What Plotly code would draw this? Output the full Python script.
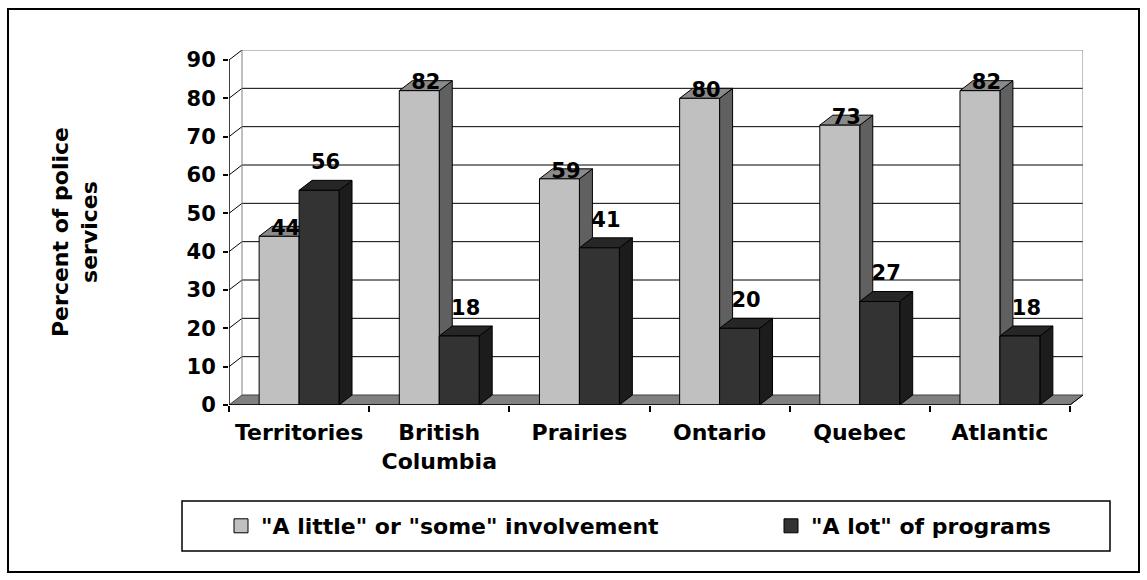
import plotly.graph_objects as go

# ---- data -------------------------------------------------------------
regions = ["Territories", "British<br>Columbia", "Prairies", "Ontario", "Quebec", "Atlantic"]
little_or_some = [44, 82, 59, 80, 73, 82]
a_lot = [56, 18, 41, 20, 27, 18]
y_ticks = [0, 10, 20, 30, 40, 50, 60, 70, 80, 90]
series_names = ['"A little" or "some" involvement', '"A lot" of programs']

# ---- page / plot geometry (pixels) -------------------------------------
W, H = 1147, 580
L, R, T, B = 229, 64, 50, 175
plot_w = W - L - R
plot_h = H - T - B

N = len(regions)
Y_MAX = max(y_ticks)
DEPTH_X_PX, DEPTH_Y_PX = 13, 10          # oblique depth of the pseudo-3D box
unit_x = (plot_w - DEPTH_X_PX) / N        # px per category
unit_y = (plot_h - DEPTH_Y_PX) / Y_MAX    # px per percent
dx = DEPTH_X_PX / unit_x
dy = DEPTH_Y_PX / unit_y
BAR_W = 0.285

X_LO, X_HI = -0.5, N - 0.5

FONT = "DejaVu Sans"
BLACK = "#000000"

LIGHT = dict(front="#C0C0C0", top="#8A8A8A", side="#606060")
DARK = dict(front="#333333", top="#262626", side="#1C1C1C")


def xp(px):
    return (px - L) / plot_w


def yp(px):
    return (H - B - px) / plot_h


def faces(x0, x1, v):
    front = [(x0, 0), (x1, 0), (x1, v), (x0, v)]
    top = [(x0, v), (x1, v), (x1 + dx, v + dy), (x0 + dx, v + dy)]
    side = [(x1, 0), (x1 + dx, dy), (x1 + dx, v + dy), (x1, v)]
    return front, top, side


def poly_trace(polys, color):
    xs, ys = [], []
    for p in polys:
        xs += [q[0] for q in p] + [p[0][0], None]
        ys += [q[1] for q in p] + [p[0][1], None]
    return go.Scatter(x=xs, y=ys, mode="lines", fill="toself", fillcolor=color,
                      line=dict(color=BLACK, width=1), hoverinfo="skip",
                      showlegend=False)


def series_traces(values, left, colors, label_lift_px):
    fronts, tops, sides = [], [], []
    lx, ly = [], []
    for i, v in enumerate(values):
        x0 = i - BAR_W if left else i
        x1 = x0 + BAR_W
        f, t, s = faces(x0, x1, v)
        fronts.append(f)
        tops.append(t)
        sides.append(s)
        lx.append((x0 + x1) / 2 + dx / 2)
        ly.append(v + label_lift_px / unit_y)
    traces = [poly_trace(sides, colors["side"]),
              poly_trace(tops, colors["top"]),
              poly_trace(fronts, colors["front"])]
    traces.append(go.Scatter(x=lx, y=ly, mode="text", text=[str(v) for v in values],
                             textposition="top center",
                             textfont=dict(family=FONT, size=21, color=BLACK, weight="bold"),
                             hoverinfo="skip", showlegend=False))
    return traces


fig = go.Figure()
# light series first so the dark bars sit in front of its side faces / labels
for tr in series_traces(little_or_some, True, LIGHT, -4):
    fig.add_trace(tr)
for tr in series_traces(a_lot, False, DARK, DEPTH_Y_PX + 6):
    fig.add_trace(tr)

# legend entries (one legend per series so each can be placed on its own)
for name, col, lg in zip(series_names, [LIGHT["front"], DARK["front"]], ["legend", "legend2"]):
    fig.add_trace(go.Scatter(x=[None], y=[None], mode="markers", name=name, legend=lg,
                             marker=dict(symbol="square", size=14, color=col,
                                         line=dict(color=BLACK, width=1))))

shapes = []
# floor
shapes.append(dict(type="path", layer="below", xref="x", yref="y",
                   path=f"M{X_LO},0 L{X_HI},0 L{X_HI + dx},{dy} L{X_LO + dx},{dy} Z",
                   fillcolor="#808080", line=dict(color="#404040", width=1)))
# walls: gridlines running from the front axis back and across the back wall
for t in y_ticks[1:]:
    col = "#808080" if t == Y_MAX else BLACK
    shapes.append(dict(type="line", layer="below", xref="x", yref="y",
                       x0=X_LO + dx, y0=t + dy, x1=X_HI + dx, y1=t + dy,
                       line=dict(color=col, width=1)))
    shapes.append(dict(type="line", layer="below", xref="x", yref="y",
                       x0=X_LO, y0=t, x1=X_LO + dx, y1=t + dy,
                       line=dict(color=BLACK, width=1)))
for xe in (X_LO + dx, X_HI + dx):
    shapes.append(dict(type="line", layer="below", xref="x", yref="y",
                       x0=xe, y0=dy, x1=xe, y1=Y_MAX + dy,
                       line=dict(color="#808080", width=1)))
# front axes
shapes.append(dict(type="line", xref="x", yref="y", x0=X_LO, y0=0, x1=X_LO, y1=Y_MAX,
                   line=dict(color=BLACK, width=1.5)))
shapes.append(dict(type="line", xref="x", yref="y", x0=X_LO, y0=0, x1=X_HI, y1=0,
                   line=dict(color=BLACK, width=1.5)))
shapes.append(dict(type="line", xref="x", yref="y", x0=X_HI, y0=0, x1=X_HI + dx, y1=dy,
                   line=dict(color=BLACK, width=1)))
# legend frame and outer frame
shapes.append(dict(type="rect", xref="paper", yref="paper",
                   x0=xp(182), x1=xp(1110), y0=yp(551), y1=yp(501),
                   line=dict(color=BLACK, width=1.5), fillcolor="rgba(0,0,0,0)"))
shapes.append(dict(type="rect", xref="paper", yref="paper",
                   x0=xp(8), x1=xp(1139), y0=yp(572), y1=yp(9),
                   line=dict(color=BLACK, width=2), fillcolor="rgba(0,0,0,0)"))

legend_font = dict(family=FONT, size=22, color=BLACK, weight="bold")
fig.update_layout(
    width=W, height=H, autosize=False,
    margin=dict(l=L, r=R, t=T, b=B, pad=0),
    paper_bgcolor="white", plot_bgcolor="white",
    shapes=shapes,
    showlegend=True,
    legend=dict(orientation="h", x=xp(221), y=yp(526), xanchor="left", yanchor="middle",
                bgcolor="rgba(0,0,0,0)", borderwidth=0, font=legend_font),
    legend2=dict(orientation="h", x=xp(771), y=yp(526), xanchor="left", yanchor="middle",
                 bgcolor="rgba(0,0,0,0)", borderwidth=0, font=legend_font),
    annotations=[dict(text="Percent of police<br>services", textangle=-90,
                      xref="paper", yref="paper", x=xp(75), y=yp(232),
                      xanchor="center", yanchor="middle", showarrow=False,
                      font=dict(family=FONT, size=22, color=BLACK, weight="bold"))],
)

fig.update_xaxes(range=[X_LO, X_HI + dx], tickvals=list(range(N)), ticktext=regions,
                 ticks="", showgrid=False, zeroline=False, showline=False,
                 ticklabelstandoff=12,
                 tickfont=dict(family=FONT, size=22, color=BLACK, weight="bold"),
                 minor=dict(tickmode="linear", tick0=X_LO, dtick=1, ticks="outside",
                            ticklen=6, tickcolor=BLACK, tickwidth=1.5, showgrid=False),
                 fixedrange=True)
fig.update_yaxes(range=[0, Y_MAX + dy], tickvals=y_ticks, ticks="outside", ticklen=5,
                 tickcolor=BLACK, tickwidth=1.5, showgrid=False, zeroline=False,
                 showline=False, ticklabelstandoff=3,
                 tickfont=dict(family=FONT, size=21, color=BLACK, weight="bold"),
                 fixedrange=True)

fig.write_html("out.html")
